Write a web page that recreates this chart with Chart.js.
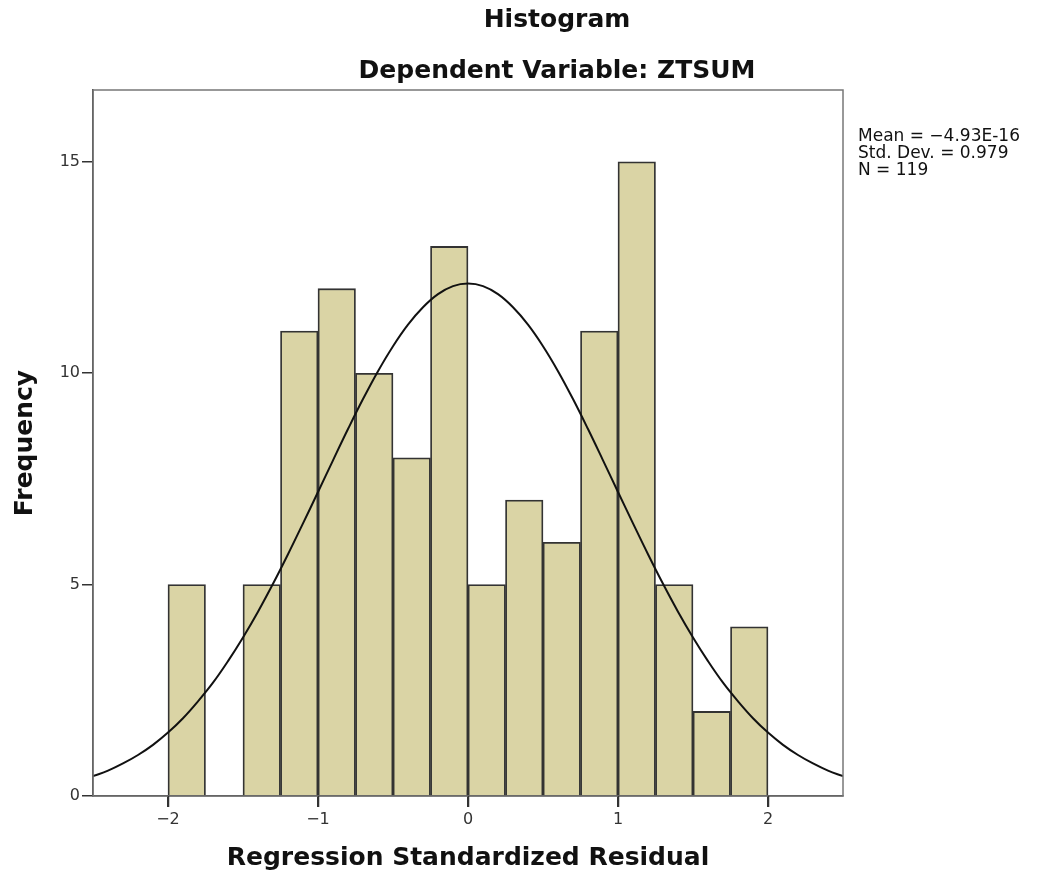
<!DOCTYPE html>
<html>
<head>
<meta charset="utf-8">
<script src="https://cdn.jsdelivr.net/npm/chart.js@4/dist/chart.umd.min.js"></script>
<style>
  html, body { margin: 0; padding: 0; background: #fff; }
  #wrap { width: 1042px; height: 879px; position: relative; }
</style>
</head>
<body>
<div id="wrap"><canvas id="histogram" width="1042" height="879"></canvas></div>
<script>
// bin centres (width 0.25) and counts
const binCenters = [-1.875, -1.625, -1.375, -1.125, -0.875, -0.625, -0.375, -0.125,
                    0.125, 0.375, 0.625, 0.875, 1.125, 1.375, 1.625, 1.875];
const binCounts = [5, 0, 5, 11, 12, 10, 8, 13, 5, 7, 6, 11, 15, 5, 2, 4];

// normal curve as drawn
const curveX = [-2.5, -2.4, -2.3, -2.2, -2.1, -2.0, -1.9, -1.8, -1.7, -1.6, -1.5, -1.4, -1.3,
                -1.2, -1.1, -1.0, -0.9, -0.8, -0.7, -0.6, -0.5, -0.4, -0.3, -0.2, -0.1, 0,
                0.1, 0.2, 0.3, 0.4, 0.5, 0.6, 0.7, 0.8, 0.9, 1.0, 1.1, 1.2, 1.3,
                1.4, 1.5, 1.6, 1.7, 1.8, 1.9, 2.0, 2.1, 2.2, 2.3, 2.4, 2.5];
const curveY = [0.47, 0.60, 0.77, 0.97, 1.21, 1.50, 1.84, 2.24, 2.68, 3.19, 3.75, 4.36, 5.02,
                5.72, 6.45, 7.19, 7.94, 8.68, 9.39, 10.05, 10.64, 11.15, 11.56, 11.87, 12.06, 12.12,
                12.06, 11.87, 11.56, 11.15, 10.64, 10.05, 9.39, 8.68, 7.94, 7.19, 6.45, 5.72, 5.02,
                4.36, 3.75, 3.19, 2.68, 2.24, 1.84, 1.50, 1.21, 0.97, 0.77, 0.60, 0.47];

const xTickValues = [-2, -1, 0, 1, 2];
const xTickLabels = ["\u22122", "\u22121", "0", "1", "2"];
const yTickValues = [0, 5, 10, 15];

const titleLines = ["Histogram", "Dependent Variable: ZTSUM"];
const statsLines = ["Mean = \u22124.93E-16", "Std. Dev. = 0.979", "N = 119"];

const FONT = "'DejaVu Sans', Verdana, sans-serif";

// titles, stats box, x tick marks and the gray frame round the plot
const extras = {
    id: "extras",
    afterDraw(chart) {
        const { ctx, chartArea } = chart;
        const xScale = chart.scales.x;
        ctx.save();
        ctx.strokeStyle = "#777";
        ctx.lineWidth = 1.5;
        ctx.strokeRect(chartArea.left, chartArea.top, chartArea.right - chartArea.left, chartArea.bottom - chartArea.top);

        // tick marks under the x axis
        ctx.strokeStyle = "#333";
        ctx.beginPath();
        xTickValues.forEach((v) => {
            const px = Math.round(xScale.getPixelForValue(v)) + 0.5;
            ctx.moveTo(px, chartArea.bottom);
            ctx.lineTo(px, chartArea.bottom + 11);
        });
        ctx.stroke();

        ctx.fillStyle = "#111";
        ctx.textAlign = "center";
        ctx.textBaseline = "middle";
        ctx.font = "bold 25px " + FONT;
        ctx.fillText(titleLines[0], 557, 20);
        ctx.fillText(titleLines[1], 557, 71);

        ctx.textAlign = "left";
        ctx.font = "17px " + FONT;
        statsLines.forEach((t, i) => ctx.fillText(t, 858, 137 + i * 17));
        ctx.restore();
    },
};

new Chart(document.getElementById("histogram"), {
    type: "bar",
    data: {
        datasets: [
            {
                type: "line",
                data: curveX.map((x, i) => ({ x: x, y: curveY[i] })),
                borderColor: "#111",
                borderWidth: 2,
                pointRadius: 0,
                tension: 0.4,
                fill: false,
                order: 0,
            },
            {
                data: binCenters.map((x, i) => ({ x: x, y: binCounts[i] })),
                backgroundColor: "#dad4a5",
                borderColor: "#333",
                borderWidth: 1.8,
                borderSkipped: "bottom",
                barPercentage: 1.0,
                categoryPercentage: 1.0,
                order: 1,
            },
        ],
    },
    options: {
        responsive: false,
        animation: false,
        devicePixelRatio: 1,
        layout: { padding: { top: 90, right: 199, bottom: 0, left: 0 } },
        plugins: {
            legend: { display: false },
            tooltip: { enabled: false },
        },
        scales: {
            x: {
                type: "linear",
                min: -2.5,
                max: 2.5,
                offset: false,
                afterBuildTicks: (scale) => { scale.ticks = xTickValues.map((v) => ({ value: v })); },
                afterFit: (scale) => { scale.height = 83; },
                ticks: {
                    color: "#333",
                    font: { family: FONT, size: 16 },
                    padding: 3,
                    callback: (value) => xTickLabels[xTickValues.indexOf(value)],
                },
                grid: { offset: false, drawOnChartArea: false, drawTicks: true, tickLength: 11, color: "#333", lineWidth: 1.5 },
                border: { display: true, color: "#333", width: 1.5 },
                title: {
                    display: true,
                    text: "Regression Standardized Residual",
                    color: "#111",
                    font: { family: FONT, size: 25, weight: "bold" },
                    padding: { top: 6, bottom: 6 },
                },
            },
            y: {
                min: 0,
                max: 16.7,
                afterBuildTicks: (scale) => { scale.ticks = yTickValues.map((v) => ({ value: v })); },
                afterFit: (scale) => { scale.width = 93; },
                ticks: {
                    color: "#333",
                    font: { family: FONT, size: 16 },
                    padding: 2,
                },
                grid: { drawOnChartArea: false, drawTicks: true, tickLength: 11, color: "#333", lineWidth: 1.5 },
                border: { display: true, color: "#333", width: 1.5 },
                title: {
                    display: true,
                    text: "Frequency",
                    color: "#111",
                    font: { family: FONT, size: 25, weight: "bold" },
                    padding: { top: 10, bottom: 10 },
                },
            },
        },
    },
    plugins: [extras],
});
</script>
</body>
</html>
